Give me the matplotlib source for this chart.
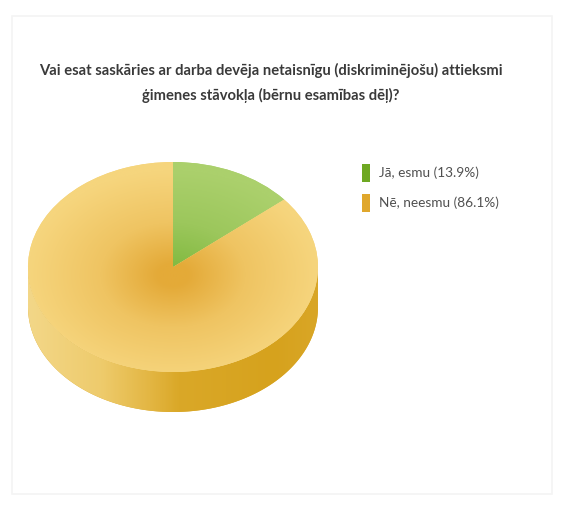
import matplotlib
matplotlib.use('Agg')

import matplotlib.pyplot     as plt
import matplotlib.patches    as mpatches
import matplotlib.transforms as mtrans
import matplotlib.colors     as mcolors
import numpy                 as np


title   = ('Vai esat saskāries ar darba devēja netaisnīgu (diskriminējošu) attieksmi\n'
           'ģimenes stāvokļa (bērnu esamības dēļ)?')
labels  = ['Jā, esmu', 'Nē, neesmu']
shares  = [13.9, 86.1]
legend_colors = ['#6ea822', '#e0a72c']

# radial shading of each slice: centre, middle and rim colour
face_shades = [('#84bb43', '#9cc75c', '#abd06c'),
               ('#e4aa38', '#efc462', '#f6d57d')]

font = ['Lato', 'DejaVu Sans']

width, height = 571, 515
cx, cy = 173, 267
rx, ry = 145, 105
depth  = 40

fig = plt.figure(figsize=(width / 100, height / 100), dpi=100)
ax  = fig.add_axes([0, 0, 1, 1])
ax.set_xlim(0, width)
ax.set_ylim(height, 0)
ax.axis('off')

# faint frame round the chart
ax.add_patch(mpatches.Rectangle((12, 16), 540, 478, fill=False,
                                edgecolor='#f4f4f4', linewidth=1.2))

ax.text(271, 83, title, ha='center', va='center', fontsize=10.6,
        fontweight='bold', color='#3a3a3a', family=font, linespacing=1.75)

# unit circle -> ellipse in pixel space (y axis points down)
pie_trans = mtrans.Affine2D().scale(rx, -ry).translate(cx, cy) + ax.transData


def gradient_image(cmap, values, extent, clip):
    img = ax.imshow(values, cmap=cmap, extent=extent, origin='upper',
                    interpolation='bilinear', aspect='auto', zorder=2)
    img.set_clip_path(clip)


# side wall of the cylinder (front half only)
t    = np.linspace(np.pi, 2 * np.pi, 200)
top  = np.column_stack([np.cos(t), np.sin(t)])
bot  = np.column_stack([np.cos(t[::-1]), np.sin(t[::-1]) - depth / ry])
side = mpatches.Polygon(np.vstack([top, bot]), closed=True,
                        transform=pie_trans, facecolor='#dcaa2c',
                        edgecolor='none', zorder=1)
ax.add_patch(side)
side_cmap = mcolors.LinearSegmentedColormap.from_list(
    'side', [(0.0, '#f3d788'), (0.25, '#eecb6c'), (0.42, '#e3b643'),
             (0.52, '#daa828'), (0.85, '#d6a21d'), (1.0, '#d9a626')])
gradient_image(side_cmap, np.linspace(0, 1, 300)[None, :],
               (cx - rx, cx + rx, cy + ry + depth + 2, cy - 2), side)

# top face slices, clockwise from twelve o'clock
xs = np.linspace(cx - rx, cx + rx, 300)
ys = np.linspace(cy - ry, cy + ry, 220)
gx, gy = np.meshgrid(xs, ys)
radius = np.sqrt(((gx - cx) / rx) ** 2 + ((gy - cy - 8) / ry) ** 2)
radius = np.clip(radius, 0, 1)

fractions = np.array(shares) / np.sum(shares)
start = 90.0
for frac, (inner, middle, outer) in zip(fractions, face_shades):
    end   = start - 360 * frac
    wedge = mpatches.Wedge((0, 0), 1, end, start, transform=pie_trans,
                           facecolor=outer, edgecolor='none', zorder=1)
    ax.add_patch(wedge)
    cmap = mcolors.LinearSegmentedColormap.from_list(
        'face', [(0.0, inner), (0.1, inner), (0.5, middle), (1.0, outer)])
    gradient_image(cmap, radius, (cx - rx, cx + rx, cy + ry, cy - ry), wedge)
    start = end

# legend
for i, (label, share, color) in enumerate(zip(labels, shares, legend_colors)):
    y = 173 + 30 * i
    ax.add_patch(mpatches.Rectangle((362, y - 9), 8, 18, facecolor=color,
                                    edgecolor='none'))
    ax.text(379, y, '{} ({:.1f}%)'.format(label, share), ha='left',
            va='center', fontsize=9.8, color='#505050', family=font)

fig.savefig('out.png', dpi=100)
